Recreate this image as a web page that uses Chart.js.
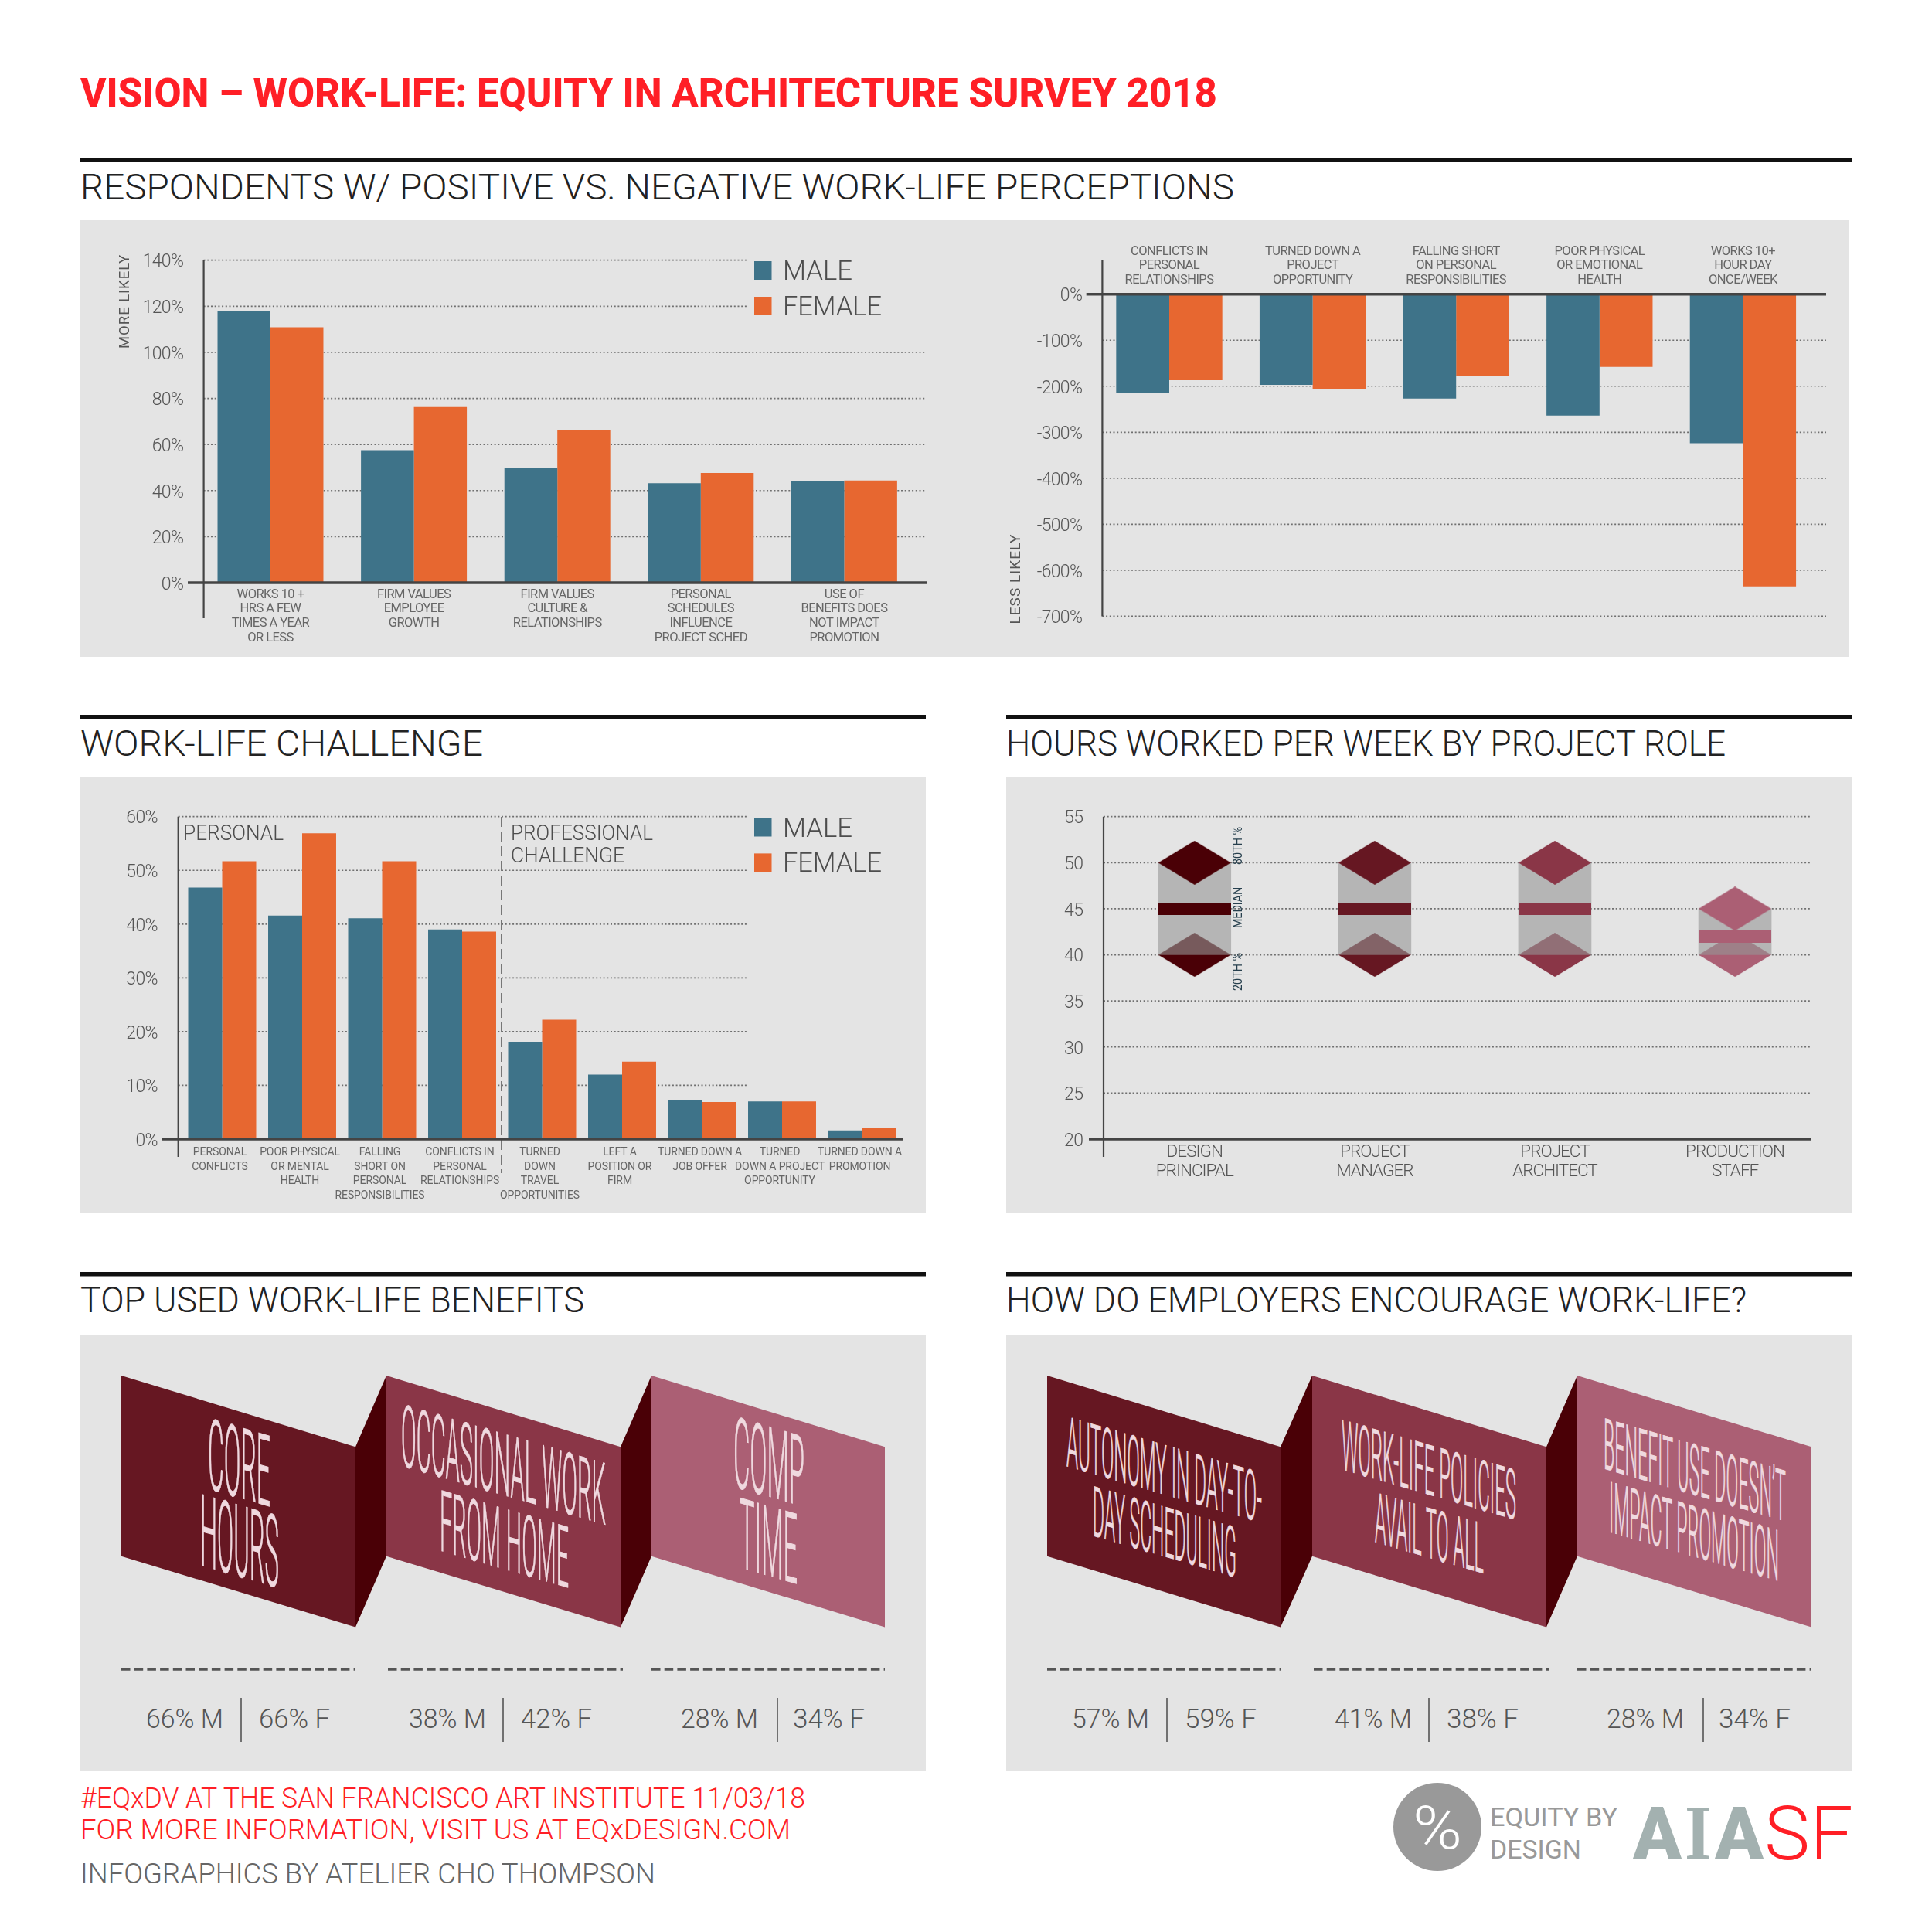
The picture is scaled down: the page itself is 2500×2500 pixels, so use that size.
<!DOCTYPE html>
<html><head><meta charset="utf-8">
<style>
html,body{margin:0;padding:0;background:#fff}
#page{position:relative;width:2500px;height:2500px;overflow:hidden;background:#fff}
#page svg{position:absolute;left:0;top:0}
#page canvas{position:absolute}
</style>
<script src="https://cdn.jsdelivr.net/npm/chart.js@4/dist/chart.umd.js"></script>
</head><body>
<div id="page"><svg id="art" width="2500" height="2500" viewBox="0 0 2500 2500"></svg></div>
<script>
// ---------- DATA ----------
const seriesNames = ['MALE','FEMALE'];
const moreLikelyCategories = [['WORKS 10 +','HRS A FEW','TIMES A YEAR','OR LESS'],['FIRM VALUES','EMPLOYEE','GROWTH'],['FIRM VALUES','CULTURE &','RELATIONSHIPS'],['PERSONAL','SCHEDULES','INFLUENCE','PROJECT SCHED'],['USE OF','BENEFITS DOES','NOT IMPACT','PROMOTION']];
const moreLikelyMale = [118,57.5,50,43.2,44.1];
const moreLikelyFemale = [110.9,76.2,66.1,47.6,44.4];
const lessLikelyCategories = [['CONFLICTS IN','PERSONAL','RELATIONSHIPS'],['TURNED DOWN A','PROJECT','OPPORTUNITY'],['FALLING SHORT','ON PERSONAL','RESPONSIBILITIES'],['POOR PHYSICAL','OR EMOTIONAL','HEALTH'],['WORKS 10+','HOUR DAY','ONCE/WEEK']];
const lessLikelyMale = [-214,-197,-227,-264,-324];
const lessLikelyFemale = [-187,-206,-177,-158,-635];
const challengeCategories = [['PERSONAL','CONFLICTS'],['POOR PHYSICAL','OR MENTAL','HEALTH'],['FALLING','SHORT ON','PERSONAL','RESPONSIBILITIES'],['CONFLICTS IN','PERSONAL','RELATIONSHIPS'],['TURNED','DOWN','TRAVEL','OPPORTUNITIES'],['LEFT A','POSITION OR','FIRM'],['TURNED DOWN A','JOB OFFER'],['TURNED','DOWN A PROJECT','OPPORTUNITY'],['TURNED DOWN A','PROMOTION']];
const challengeMale = [46.8,41.6,41.1,39,18.1,12,7.3,7,1.6];
const challengeFemale = [51.7,56.9,51.7,38.6,22.2,14.4,6.9,7,2];
const roleCategories = [['DESIGN','PRINCIPAL'],['PROJECT','MANAGER'],['PROJECT','ARCHITECT'],['PRODUCTION','STAFF']];
const rolePercentile20 = [40,40,40,40];
const roleMedian = [45,45,45,42];
const rolePercentile80 = [50,50,50,45];
const benefitLabels = [['CORE','HOURS'],['OCCASIONAL WORK','FROM HOME'],['COMP','TIME']];
const benefitMale = [66,38,28];
const benefitFemale = [66,42,34];
const encourageLabels = [['AUTONOMY IN DAY-TO-','DAY SCHEDULING'],['WORK-LIFE POLICIES','AVAIL TO ALL'],['BENEFIT USE DOESN\u2019T','IMPACT PROMOTION']];
const encourageMale = [57,41,28];
const encourageFemale = [59,38,34];

// ---------- STYLE ----------
const MALE='#3e7389', FEMALE='#e76730', PANEL='#e4e4e4', RED='#ff1f26', INK='#4d4d4d';
const ROLE_COLORS=['#4a0006','#661722','#8a3647','#ab5f74'];

// ---------- STATIC ARTWORK ----------
const NS='http://www.w3.org/2000/svg', art=document.getElementById('art');
function el(n,a,t){const e=document.createElementNS(NS,n);for(const k in a)e.setAttribute(k,a[k]);if(t!==undefined)e.textContent=t;art.appendChild(e);return e}
function rect(x,y,w,h,fill){el('rect',{x,y,width:w,height:h,fill})}
function text(s,x,y,w,size,fill,weight,family){el('text',{x,y,textLength:w,lengthAdjust:'spacingAndGlyphs','font-family':family||'Roboto','font-size':size,'font-weight':weight||300,fill},s)}
function skewText(s,x0,x1,yBase,cap,fill){
  el('text',{transform:`matrix(1 0.29 0 1 ${x0} ${yBase})`,x:0,y:0,textLength:x1-x0,lengthAdjust:'spacingAndGlyphs','font-family':'Roboto','font-size':cap/0.711,'font-weight':300,fill,stroke:fill,'stroke-width':1},s)
}
[[104,285,2289,565],[104,1005,1094,565],[1302,1005,1094,565],[104,1727,1094,565],[1302,1727,1094,565]].forEach(r=>rect(...r,PANEL));
[[104,204,2292],[104,925,1094],[1302,925,1094],[104,1646,1094],[1302,1646,1094]].forEach(r=>rect(r[0],r[1],r[2],5.5,'#111'));
text('VISION \u2013 WORK-LIFE: EQUITY IN ARCHITECTURE SURVEY 2018',104,138,1471,51,RED,800);
text('RESPONDENTS W/ POSITIVE VS. NEGATIVE WORK-LIFE PERCEPTIONS',104,258,1493,46,'#222');
text('WORK-LIFE CHALLENGE',104,978,521,46,'#222');
text('HOURS WORKED PER WEEK BY PROJECT ROLE',1302,978,931,46,'#222');
text('TOP USED WORK-LIFE BENEFITS',104,1698,652,46,'#222');
text('HOW DO EMPLOYERS ENCOURAGE WORK-LIFE?',1302,1698,958,46,'#222');

function foldedBlock(xs,labels,lines,male,female,dash,mx,fx,dv){
  const fills=[ROLE_COLORS[1],ROLE_COLORS[2],ROLE_COLORS[3]];
  xs.forEach((x,i)=>{
    const [a,b]=x;
    el('polygon',{fill:fills[i],points:`${a},1780 ${b},1872.2 ${b},2105.6 ${a},2013.7`});
    if(i<2){const n=xs[i+1][0];el('polygon',{fill:ROLE_COLORS[0],points:`${b},1872.2 ${n},1780 ${n},2013.7 ${b},2105.6`});}
    labels[i].forEach((s,j)=>{const l=lines[i][j];skewText(s,l[0],l[1],l[2],l[3],'#efd9df')});
    el('line',{x1:dash[i][0],x2:dash[i][1],y1:2160,y2:2160,stroke:'#555','stroke-width':3.5,'stroke-dasharray':'11.5 5.2'});
    text(male[i]+'% M',mx[i][0],2236,mx[i][1]-mx[i][0],35,'#555');
    text(female[i]+'% F',fx[i][0],2236,fx[i][1]-fx[i][0],35,'#555');
    rect(dv[i]-0.8,2197,1.6,57,'#555');
  });
}
foldedBlock([[157,460],[500,803],[843,1145]],benefitLabels,
 [[[269,350,1926,91],[259,361,2025,92]],[[519,784,1896,79],[569,736,2006,78]],[[949,1041,1923,90],[957,1032,2028,90]]],
 benefitMale,benefitFemale,[[157,460],[502,806],[843,1145]],[[189,289],[529,629],[881,981]],[[335,427],[674,766],[1026,1119]],[312,651,1006]);
foldedBlock([[1355,1657],[1698,2001],[2041,2344]],encourageLabels,
 [[[1380,1633,1897,64],[1414,1600,1987,64]],[[1736,1962,1901,64],[1779,1920,1995,64]],[[2075,2311,1900,65],[2082,2302,1982,65]]],
 encourageMale,encourageFemale,[[1355,1658],[1700,2004],[2041,2344]],[[1387,1487],[1727,1827],[2079,2179]],[[1533,1626],[1872,1965],[2224,2317]],[1510,1849,2204]);

text('#EQxDV AT THE SAN FRANCISCO ART INSTITUTE 11/03/18',104,2339,938,36,RED);
text('FOR MORE INFORMATION, VISIT US AT EQxDESIGN.COM',104,2380,919,36,RED);
text('INFOGRAPHICS BY ATELIER CHO THOMPSON',104,2437,744,36,'#666');
el('circle',{cx:1860,cy:2364,r:57,fill:'#999'});
text('%',1828,2392,64,77,'#fff');
text('EQUITY BY',1928,2363,165,33,'#999',400);
text('DESIGN',1928,2405,118,33,'#999',400);
text('A',2113,2406,63,94,'#a3b1b0',900);
text('I',2180,2406,35,101,'#a3b1b0',700,'Liberation Serif');
text('A',2219,2406,63,94,'#a3b1b0',900);
text('SF',2283,2406,115,96,RED);

// ---------- CHARTS ----------
const decor={id:'decor',
  beforeDatasetsDraw(c,_,o){
    const x=c.ctx,y=c.scales.y,R=o.rect;
    x.save();x.translate(-R.x,-R.y);
    x.strokeStyle='#6f6f6f';x.lineWidth=1.7;x.setLineDash([2,2.7]);
    y.ticks.forEach(t=>{ if(t.value===o.base) return;
      const p=y.getPixelForValue(t.value)+R.y;
      x.beginPath();x.moveTo(o.axisX,p);x.lineTo(o.gridEnd(t.value),p);x.stroke();});
    if(o.divider){x.strokeStyle='#777';x.lineWidth=2;x.setLineDash([13,6]);x.beginPath();x.moveTo(o.divider[0],o.divider[1]);x.lineTo(o.divider[0],o.divider[2]);x.stroke();}
    x.restore();
  },
  afterDatasetsDraw(c,_,o){
    const x=c.ctx,y=c.scales.y,R=o.rect;
    x.save();x.translate(-R.x,-R.y);x.setLineDash([]);x.strokeStyle='#444';
    x.lineWidth=2.2;x.beginPath();x.moveTo(o.axisX,o.axisTop);x.lineTo(o.axisX,o.axisBottom);x.stroke();
    const b=y.getPixelForValue(o.base)+R.y;
    x.lineWidth=3.4;x.beginPath();x.moveTo(o.baseFrom,b);x.lineTo(o.baseTo,b);x.stroke();
    if(o.legend){
      c.data.datasets.forEach((d,i)=>{const l=o.legend[i];
        x.fillStyle=d.backgroundColor;x.fillRect(l[0],l[1],22.5,24);
        x.fillStyle=INK;x.font='300 35px Roboto';x.textAlign='left';x.textBaseline='alphabetic';
        x.fillText(d.label,l[0]+37,l[1]+24,l[2]);});
    }
    (o.notes||[]).forEach(n=>{
      x.save();x.translate(n.x,n.y);if(n.rotate)x.rotate(-Math.PI/2);
      x.letterSpacing=(n.track||0)+'px';
      x.font=n.font;x.fillStyle=n.color||INK;x.textAlign=n.align||'center';x.textBaseline=n.baseline||'middle';
      x.fillText(n.text,0,0,n.max);x.letterSpacing='0px';x.restore();});
    x.restore();
  }
};
Chart.register(decor);

// tighter tracking and a small nudge for the condensed look of the tick labels
function tracked(s,spacing,dx,dy){
  if(s._tracked) return; s._tracked=true;
  const d=s.drawLabels.bind(s);
  s.drawLabels=a=>{const g=s.ctx;g.save();g.translate(dx,dy);g.letterSpacing=spacing+'px';d(a);g.letterSpacing='0px';g.restore()};
}

function makeChart(R,A,cfg,dec){
  const cv=document.createElement('canvas');
  cv.width=R.w;cv.height=R.h;
  cv.style.cssText=`left:${R.x}px;top:${R.y}px;width:${R.w}px;height:${R.h}px`;
  document.getElementById('page').appendChild(cv);
  const top=cfg.xPos==='top';
  const YW=A.left-R.x, XH=top?A.top-R.y:R.y+R.h-A.bottom;
  const zero=s=>{s.paddingLeft=s.paddingRight=s.paddingTop=s.paddingBottom=0};
  new Chart(cv,{
    data:{labels:cfg.labels,datasets:cfg.datasets},
    options:{
      responsive:false,animation:false,devicePixelRatio:1,
      layout:{padding:{left:0,right:R.x+R.w-A.right,top:top?0:A.top-R.y,bottom:top?R.y+R.h-A.bottom:0}},
      plugins:{legend:{display:false},tooltip:{enabled:false},decor:Object.assign({rect:R},dec)},
      scales:{
        x:{type:'category',position:cfg.xPos||'bottom',offset:true,grid:{display:false},border:{display:false},
           afterFit(s){s.height=XH;zero(s);tracked(s,cfg.xTrack,cfg.xShift||0,cfg.xNudge)},
           ticks:{autoSkip:false,maxRotation:0,minRotation:0,padding:0,color:cfg.xColor||'#666',font:{family:'Roboto',size:cfg.xSize,lineHeight:cfg.xLine,weight:cfg.xWeight||400}}},
        y:{type:'linear',min:cfg.min,max:cfg.max,grid:{display:false},border:{display:false},
           afterFit(s){s.width=YW;zero(s);tracked(s,-0.7,0,3)},
           ticks:{stepSize:cfg.step,padding:cfg.yPad,color:'#555',font:{family:'Roboto',size:23,weight:300},callback:cfg.fmt||(v=>v)}}
      }
    }
  });
}
const genderSets=(m,f,pct)=>[
  {type:'bar',label:seriesNames[0],data:m,backgroundColor:MALE,barPercentage:1,categoryPercentage:pct},
  {type:'bar',label:seriesNames[1],data:f,backgroundColor:FEMALE,barPercentage:1,categoryPercentage:pct}];
const pctFmt=v=>v+'%';

makeChart({x:104,y:285,w:1106,h:565},{left:257.2,right:1185.2,top:336.7,bottom:754},
 {labels:moreLikelyCategories,datasets:genderSets(moreLikelyMale,moreLikelyFemale,.738),min:0,max:140,step:20,yPad:12,xNudge:-2,xSize:16.5,xLine:1.145,xTrack:-0.55,fmt:pctFmt},
 {base:0,axisX:263.6,axisTop:336.7,axisBottom:800,baseFrom:243,baseTo:1200,gridEnd:v=>v>=120?966:1197,
  legend:[[976,338,90],[976,384,128]],
  notes:[{text:'MORE LIKELY',x:162.5,y:390,rotate:true,font:'400 19px Roboto',max:122,track:1,color:'#555'}]});

makeChart({x:1290,y:285,w:1103,h:565},{left:1420.2,right:2348.2,top:380.7,bottom:797.4},
 {labels:lessLikelyCategories,datasets:genderSets(lessLikelyMale,lessLikelyFemale,.74),xPos:'top',min:-700,max:0,step:100,yPad:12,xNudge:0,xSize:16.5,xLine:1.145,xTrack:-0.55,fmt:pctFmt},
 {base:0,axisX:1426.4,axisTop:336.7,axisBottom:797.4,baseFrom:1405.7,baseTo:2363,gridEnd:()=>2363,
  notes:[{text:'LESS LIKELY',x:1315,y:749,rotate:true,font:'400 19px Roboto',max:118,track:1,color:'#555'}]});

makeChart({x:104,y:1005,w:1094,h:565},{left:235.75,right:1167.25,top:1056.7,bottom:1474},
 {labels:challengeCategories,datasets:genderSets(challengeMale,challengeFemale,.85),min:0,max:60,step:10,yPad:24,xNudge:0,xShift:-3,xSize:14,xLine:1.34,xTrack:-0.1,fmt:pctFmt},
 {base:0,axisX:230.7,axisTop:1056.7,axisBottom:1497,baseFrom:209,baseTo:1168,gridEnd:()=>966,divider:[649,1057,1518],
  legend:[[976,1058.5,90],[976,1104.4,128]],
  notes:[{text:'PERSONAL',x:237,y:1087,align:'left',baseline:'alphabetic',font:'300 27px Roboto',max:130},
         {text:'PROFESSIONAL',x:661,y:1087,align:'left',baseline:'alphabetic',font:'300 27px Roboto',max:184},
         {text:'CHALLENGE',x:661,y:1116,align:'left',baseline:'alphabetic',font:'300 27px Roboto',max:147}]});

function shapeStyle(color,halfW,halfH,diamond){
  const s=document.createElement('canvas');s.width=halfW*2;s.height=halfH*2;
  const g=s.getContext('2d');g.fillStyle=color;
  if(diamond){g.beginPath();g.moveTo(halfW,0);g.lineTo(halfW*2,halfH);g.lineTo(halfW,halfH*2);g.lineTo(0,halfH);g.closePath();g.fill();}
  else g.fillRect(0,0,halfW*2,halfH*2);
  return s;
}
const diamonds=ROLE_COLORS.map(c=>shapeStyle(c,47,28.5,true));
const medians=ROLE_COLORS.map(c=>shapeStyle(c,47,8,false));
const marker=(label,data,styles,order)=>({type:'line',label,data,showLine:false,pointStyle:styles,pointRadius:8,order});
makeChart({x:1302,y:1005,w:1094,h:565},{left:1429.2,right:2361.6,top:1056.7,bottom:1474},
 {labels:roleCategories,datasets:[
   marker('80TH %',rolePercentile80,diamonds,1),
   marker('MEDIAN',roleMedian,medians,2),
   {type:'bar',label:'RANGE',data:rolePercentile20.map((v,i)=>[v,rolePercentile80[i]]),backgroundColor:'rgba(150,150,150,.6)',barThickness:94,grouped:false,order:3},
   marker('20TH %',rolePercentile20,diamonds,4)],
  min:20,max:55,step:5,yPad:20,xNudge:-3,xSize:22.5,xLine:1.1,xColor:'#555',xTrack:-1,xWeight:300},
 {base:20,axisX:1428,axisTop:1056.7,axisBottom:1497,baseFrom:1409,baseTo:2343,gridEnd:()=>2343,
  notes:[{text:'80TH %',x:1603,y:1094.5,rotate:true,font:'16.5px Roboto',color:'#27404e',max:49},
         {text:'MEDIAN',x:1603,y:1174.5,rotate:true,font:'16.5px Roboto',color:'#27404e',max:53},
         {text:'20TH %',x:1603,y:1257.5,rotate:true,font:'16.5px Roboto',color:'#27404e',max:49}]});
</script>
</body></html>
